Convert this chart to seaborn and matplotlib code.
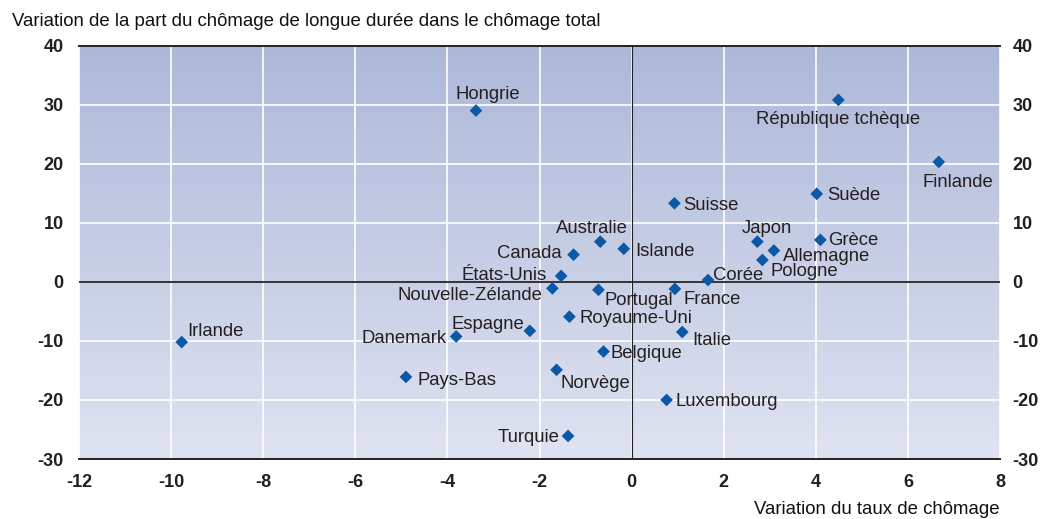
import numpy as np
import pandas as pd
import matplotlib
matplotlib.use('Agg')
import matplotlib.pyplot as plt
from matplotlib.colors import LinearSegmentedColormap
import seaborn as sns

# data
countries = ['Hongrie', 'République tchèque', 'Finlande', 'Suède', 'Suisse', 'Japon',
             'Grèce', 'Allemagne', 'Pologne', 'Corée', 'France', 'Italie', 'Islande',
             'Australie', 'Canada', 'États-Unis', 'Nouvelle-Zélande', 'Portugal',
             'Royaume-Uni', 'Espagne', 'Danemark', 'Belgique', 'Irlande', 'Pays-Bas',
             'Norvège', 'Luxembourg', 'Turquie']
unemp_change = [-3.38, 4.49, 6.67, 4.02, 0.93, 2.73,
                4.10, 3.09, 2.84, 1.66, 0.94, 1.10, -0.17,
                -0.68, -1.26, -1.53, -1.72, -0.72,
                -1.35, -2.21, -3.81, -0.61, -9.77, -4.90,
                -1.63, 0.76, -1.38]
longterm_change = [29.0, 30.8, 20.3, 14.9, 13.3, 6.8,
                   7.1, 5.3, 3.7, 0.3, -1.2, -8.5, 5.6,
                   6.8, 4.6, 1.0, -1.1, -1.35,
                   -5.9, -8.3, -9.25, -11.8, -10.2, -16.1,
                   -14.9, -20.0, -26.1]

# label placement: (dx px, dy px, ha)
label_pos = {
    'Hongrie': (12, 16, 'center'), 'République tchèque': (0, -20, 'center'),
    'Finlande': (19, -21, 'center'), 'Suède': (10, -2, 'left'), 'Suisse': (9, -2, 'left'),
    'Japon': (10, 13, 'center'), 'Grèce': (8, -1, 'left'), 'Allemagne': (9, -6, 'left'),
    'Pologne': (8, -12, 'left'), 'Corée': (5, 5, 'left'), 'France': (9, -11, 'left'),
    'Italie': (10, -8, 'left'), 'Islande': (11, -3, 'left'), 'Australie': (-8, 13, 'center'),
    'Canada': (-12, 1, 'right'), 'États-Unis': (-14, 0, 'right'),
    'Nouvelle-Zélande': (-10, -7, 'right'), 'Portugal': (6, -11, 'left'),
    'Royaume-Uni': (10, -2, 'left'), 'Espagne': (-6, 6, 'right'), 'Danemark': (-10, -2, 'right'),
    'Belgique': (7, -2, 'left'), 'Irlande': (6, 11, 'left'), 'Pays-Bas': (12, -4, 'left'),
    'Norvège': (4, -14, 'left'), 'Luxembourg': (9, -2, 'left'), 'Turquie': (-9, -2, 'right'),
}

df = pd.DataFrame({'pays': countries, 'x': unemp_change, 'y': longterm_change})

sns.set_style('white')
plt.rcParams['font.family'] = ['Liberation Sans', 'DejaVu Sans']
plt.rcParams['axes.unicode_minus'] = False

fig = plt.figure(figsize=(10.45, 5.19), dpi=100)
ax = fig.add_axes([79 / 1045, 1 - 459 / 519, 921 / 1045, 413.4 / 519])

# gradient background
cmap = LinearSegmentedColormap.from_list('bg', ['#DFE3F1', '#ADB8D9'])
grad = np.linspace(0, 1, 256).reshape(-1, 1)
ax.imshow(grad, extent=[0, 1, 0, 1], transform=ax.transAxes, origin='lower',
          cmap=cmap, aspect='auto', zorder=0)

ax.set_xlim(-12, 8)
ax.set_ylim(-30, 40)
ax.set_xticks(np.arange(-12, 9, 2))
ax.set_yticks(np.arange(-30, 41, 10))
ax.set_axisbelow(True)
ax.grid(True, color='white', linewidth=1.2)

ax.axhline(0, color='#333333', linewidth=1.4, zorder=2)
ax.axvline(0, color='#222222', linewidth=0.8, zorder=2)

sns.scatterplot(data=df, x='x', y='y', marker='D', s=42, color='#0B58A6',
                edgecolor='none', ax=ax, zorder=4, legend=False)

for _, row in df.iterrows():
    dx, dy, ha = label_pos[row['pays']]
    ax.annotate(row['pays'], (row['x'], row['y']), xytext=(dx, dy),
                textcoords='offset pixels', ha=ha, va='center',
                fontsize=13.3, color='#231F20', zorder=5)

for side in ['left', 'right']:
    ax.spines[side].set_visible(False)
for side in ['top', 'bottom']:
    ax.spines[side].set_color('#222222')
    ax.spines[side].set_linewidth(1.4)
    ax.spines[side].set_zorder(3)

ax.set_xlabel('')
ax.set_ylabel('')
ax.tick_params(axis='both', length=0, labelsize=13, colors='#231F20')
ax.tick_params(axis='x', pad=11)
ax.tick_params(axis='y', pad=11)

# right-hand copy of the y axis
ax2 = ax.secondary_yaxis('right')
ax2.set_yticks(np.arange(-30, 41, 10))
ax2.spines['right'].set_visible(False)
ax2.tick_params(length=0, labelsize=13, colors='#231F20', pad=9)

for lab in ax.get_xticklabels() + ax.get_yticklabels() + ax2.get_yticklabels():
    lab.set_fontweight('bold')

fig.text(12 / 1045, 1 - 22 / 519, 'Variation de la part du chômage de longue durée dans le chômage total',
         ha='left', va='center', fontsize=13.4, color='#111111')
fig.text(1000 / 1045, 1 - 510 / 519, 'Variation du taux de chômage',
         ha='right', va='center', fontsize=13.4, color='#111111')

fig.savefig('out.png', dpi=100)
